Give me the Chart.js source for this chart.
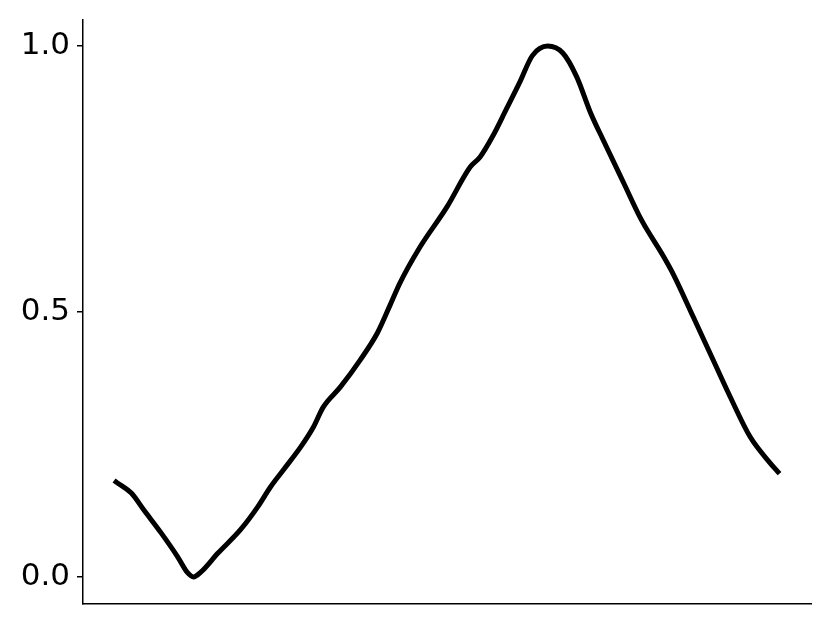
<!DOCTYPE html>
<html>
<head>
<meta charset="utf-8">
<script src="https://cdn.jsdelivr.net/npm/chart.js@4.4.0/dist/chart.umd.min.js"></script>
<style>
  html, body { margin: 0; padding: 0; background: #fff; }
  #wrap { width: 830px; height: 623px; }
</style>
</head>
<body>
<div id="wrap"><canvas id="myChart"></canvas></div>
<script>
// values (x in arbitrary units 0..100)
const xVals = [0, 2.3, 4.2, 6.8, 9.3, 10.8, 11.7, 12.8, 15.4, 18.8, 21.4, 23.3, 25.3, 27.9, 29.8, 31.3,
	33.9, 36.9, 39.5, 41.4, 42.9, 45.9, 50.0, 53.5, 55.0, 56.9, 59.0, 61.0, 62.9, 65.2, 67.5, 69.6,
	71.7, 73.6, 76.7, 79.4, 82.7, 84.2, 87.2, 90.2, 92.8, 95.8, 98.8, 100];
const yVals = [0.179, 0.158, 0.126, 0.083, 0.038, 0.008, 0.0, 0.009, 0.045, 0.089, 0.132, 0.169, 0.202, 0.245,
	0.282, 0.320, 0.358, 0.409, 0.460, 0.512, 0.554, 0.621, 0.697, 0.772, 0.791, 0.830, 0.882, 0.932,
	0.982, 1.0, 0.987, 0.942, 0.874, 0.823, 0.742, 0.672, 0.604, 0.570, 0.490, 0.409, 0.339, 0.264,
	0.215, 0.198];
const yTickValues = [0, 0.5, 1.0];
const yTickLabels = ['0.0', '0.5', '1.0'];

const createChart = function () {
	const points = xVals.map((x, i) => ({ x: x, y: yVals[i] }));

	const config = {
		type: 'line',
		data: {
			datasets: [
				{
					data: points,
					borderColor: '#000',
					borderWidth: 5,
					borderCapStyle: 'square',
					pointRadius: 0,
					cubicInterpolationMode: 'monotone',
					fill: false,
				},
			],
		},
		options: {
			responsive: true,
			maintainAspectRatio: false,
			animation: false,
			layout: { padding: { top: 19.5, right: 19, left: 0, bottom: 0 } },
			plugins: {
				legend: { display: false },
				tooltip: { enabled: false },
			},
			scales: {
				x: {
					type: 'linear',
					min: -5,
					max: 105,
					grid: { display: false },
					ticks: { display: false },
					border: { display: true, color: '#000', width: 1.5 },
					afterFit: function (scale) {
						scale.height = 19.5;
					},
				},
				y: {
					type: 'linear',
					min: -0.05,
					max: 1.05,
					afterBuildTicks: function (scale) {
						scale.ticks = yTickValues.map((v) => ({ value: v }));
					},
					afterFit: function (scale) {
						scale.width = 83;
						scale.paddingTop = 0;
						scale.paddingBottom = 0;
					},
					ticks: {
						color: '#000',
						padding: 7,
						font: { family: 'DejaVu Sans', size: 31, lineHeight: 0.6 },
						callback: function (value) {
							const i = yTickValues.indexOf(value);
							return i >= 0 ? yTickLabels[i] : '';
						},
					},
					grid: {
						drawOnChartArea: false,
						tickLength: 6,
						tickColor: '#000',
						lineWidth: 1.5,
					},
					border: { display: true, color: '#000', width: 1.5 },
				},
			},
		},
	};

	const ctx = document.getElementById('myChart');
	new Chart(ctx, config);
};

document.addEventListener('DOMContentLoaded', createChart);
</script>
</body>
</html>
